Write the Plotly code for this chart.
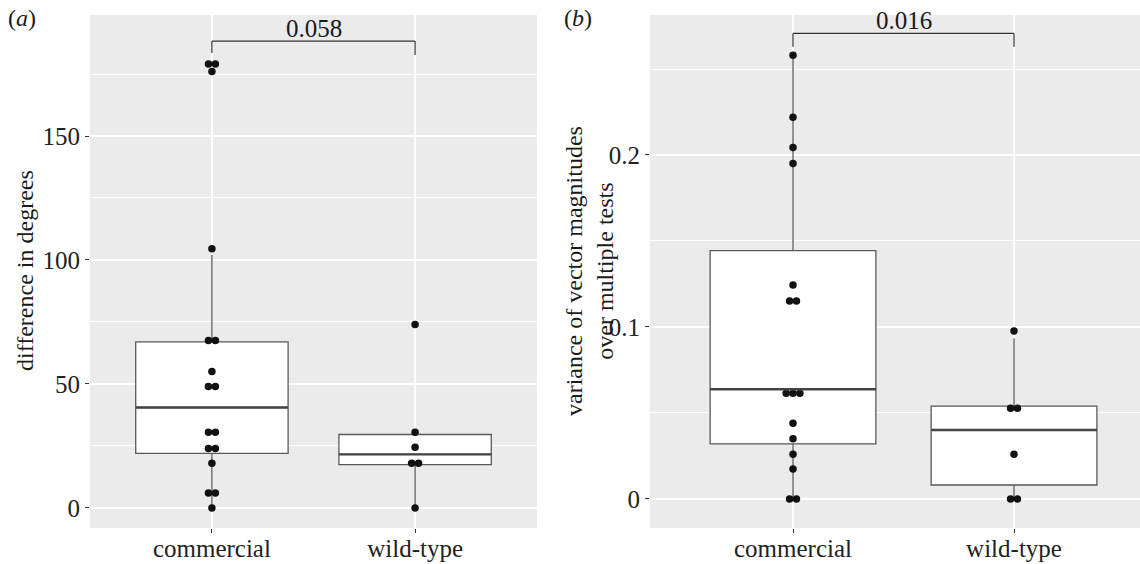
import plotly.graph_objects as go
from collections import Counter

categories = ["commercial", "wild-type"]

# Panel (a): difference in degrees (dot values)
commercial_a = [0, 6, 6, 18, 24, 24, 30.5, 30.5, 49, 49, 55, 67.5, 67.5, 104.5, 176, 179, 179]
wild_a = [0, 18, 18, 24.5, 30.5, 74]
# box stats: q1, median, q3, lower whisker, upper whisker
box_a = {"commercial": [22, 40.5, 67, 0, 102], "wild-type": [17.5, 21.6, 29.6, 0, 29.6]}
pval_a = "0.058"

# Panel (b): variance of vector magnitudes
commercial_b = [0, 0, 0.0174, 0.026, 0.035, 0.044, 0.0614, 0.0614, 0.0614,
                0.1151, 0.1151, 0.1244, 0.195, 0.2043, 0.222, 0.258]
wild_b = [0, 0, 0.026, 0.0527, 0.0527, 0.0977]
box_b = {"commercial": [0.032, 0.0638, 0.1444, 0, 0.256], "wild-type": [0.0081, 0.0401, 0.054, 0, 0.0935]}
pval_b = "0.016"

FONT = "Liberation Serif"
BOXLINE = "#595959"

fig = go.Figure()


def dot_positions(vals, center, spacing):
    cnt = Counter(vals)
    seen = Counter()
    xs = []
    for v in vals:
        n = cnt[v]
        i = seen[v]
        seen[v] += 1
        xs.append(center + (i - (n - 1) / 2) * spacing)
    return xs


def add_panel(xa, ya, boxes, dots, spacing, med_w):
    for i, cat in enumerate(categories):
        q1, med, q3, lf, uf = boxes[cat]
        fig.add_trace(go.Box(
            x=[i], q1=[q1], median=[med], q3=[q3], lowerfence=[lf], upperfence=[uf],
            width=0.75, whiskerwidth=0, fillcolor="white",
            line=dict(color=BOXLINE, width=1.3), boxpoints=False,
            xaxis=xa, yaxis=ya, showlegend=False, hoverinfo="skip"))
        fig.add_shape(type="line", xref=xa, yref=ya, x0=i - 0.375, x1=i + 0.375,
                      y0=med, y1=med, line=dict(color="#444444", width=med_w))
    for i, vals in enumerate(dots):
        fig.add_trace(go.Scatter(
            x=dot_positions(vals, i, spacing), y=vals, mode="markers",
            marker=dict(color="#111111", size=7.5),
            xaxis=xa, yaxis=ya, showlegend=False, hoverinfo="skip"))


add_panel("x", "y", box_a, [commercial_a, wild_a], 0.034, 2.4)
add_panel("x2", "y2", box_b, [commercial_b, wild_b], 0.031, 2.4)


def bracket(xa, ya, ytop, yl, yr, text):
    fig.add_shape(type="line", xref=xa, yref=ya, x0=0, x1=0, y0=yl, y1=ytop,
                  line=dict(color="#333333", width=1.2))
    fig.add_shape(type="line", xref=xa, yref=ya, x0=0, x1=1, y0=ytop, y1=ytop,
                  line=dict(color="#333333", width=1.2))
    fig.add_shape(type="line", xref=xa, yref=ya, x0=1, x1=1, y0=yr, y1=ytop,
                  line=dict(color="#333333", width=1.2))
    fig.add_annotation(xref=xa, yref=ya, x=0.5, y=ytop, text=text, showarrow=False,
                       xanchor="center", yanchor="bottom", yshift=-3,
                       font=dict(family=FONT, size=25, color="#1a1a1a"))


bracket("x", "y", 188.3, 183.5, 182.7, pval_a)
bracket("x2", "y2", 0.2707, 0.263, 0.263, pval_b)

xcommon = dict(tickvals=[0, 1], ticktext=categories, showgrid=True,
               gridcolor="white", gridwidth=1.5, zeroline=False, ticks="outside", ticklen=4,
               tickcolor="#333333", tickfont=dict(family=FONT, size=25, color="#222222"),
               showline=False, fixedrange=True, automargin=False, ticklabelstandoff=-6)
ycommon = dict(showgrid=True, gridcolor="white", gridwidth=1.5, zeroline=False,
               ticks="outside", ticklen=4, tickcolor="#333333", automargin=False,
               tickfont=dict(family=FONT, size=25, color="#222222"), showline=False)

fig.update_layout(
    width=1140, height=564, margin=dict(l=0, r=0, t=0, b=0),
    paper_bgcolor="white", plot_bgcolor="#EBEBEB",
    xaxis=dict(domain=[90 / 1140, 537 / 1140], anchor="y", range=[-0.6, 1.6], **xcommon),
    yaxis=dict(domain=[1 - 528 / 564, 1 - 15 / 564], anchor="x", range=[-8.1, 198.8],
               tickvals=[0, 50, 100, 150], ticktext=["0", "50", "100", "150"],
               minor=dict(tickvals=[25, 75, 125, 175], showgrid=True, gridcolor="white",
                          gridwidth=0.7, ticks=""), **ycommon),
    xaxis2=dict(domain=[650 / 1140, 1.0], anchor="y2", range=[-0.647, 1.570], **xcommon),
    yaxis2=dict(domain=[1 - 528 / 564, 1 - 15 / 564], anchor="x2", range=[-0.0169, 0.2814],
                tickvals=[0, 0.1, 0.2], ticktext=["0", "0.1", "0.2"],
                minor=dict(tickvals=[0.05, 0.15, 0.25], showgrid=True, gridcolor="white",
                           gridwidth=0.7, ticks=""), **ycommon),
)

fig.add_annotation(xref="paper", yref="paper", x=25 / 1140, y=1 - 271 / 564,
                   text="difference in degrees", textangle=-90, showarrow=False,
                   xanchor="center", yanchor="middle",
                   font=dict(family=FONT, size=24, color="#1a1a1a"))
fig.add_annotation(xref="paper", yref="paper", x=589 / 1140, y=1 - 271 / 564,
                   text="variance of vector magnitudes<br>over multiple tests", textangle=-90,
                   showarrow=False, xanchor="center", yanchor="middle",
                   font=dict(family=FONT, size=24, color="#1a1a1a"))
fig.add_annotation(xref="paper", yref="paper", x=22 / 1140, y=1 - 18 / 564,
                   text="(<i>a</i>)", showarrow=False, xanchor="center", yanchor="middle",
                   font=dict(family=FONT, size=24, color="#1a1a1a"))
fig.add_annotation(xref="paper", yref="paper", x=578 / 1140, y=1 - 18 / 564,
                   text="(<i>b</i>)", showarrow=False, xanchor="center", yanchor="middle",
                   font=dict(family=FONT, size=24, color="#1a1a1a"))

fig.write_html("out.html", config={"displayModeBar": False},
               post_script="document.body.style.margin='0px';")
